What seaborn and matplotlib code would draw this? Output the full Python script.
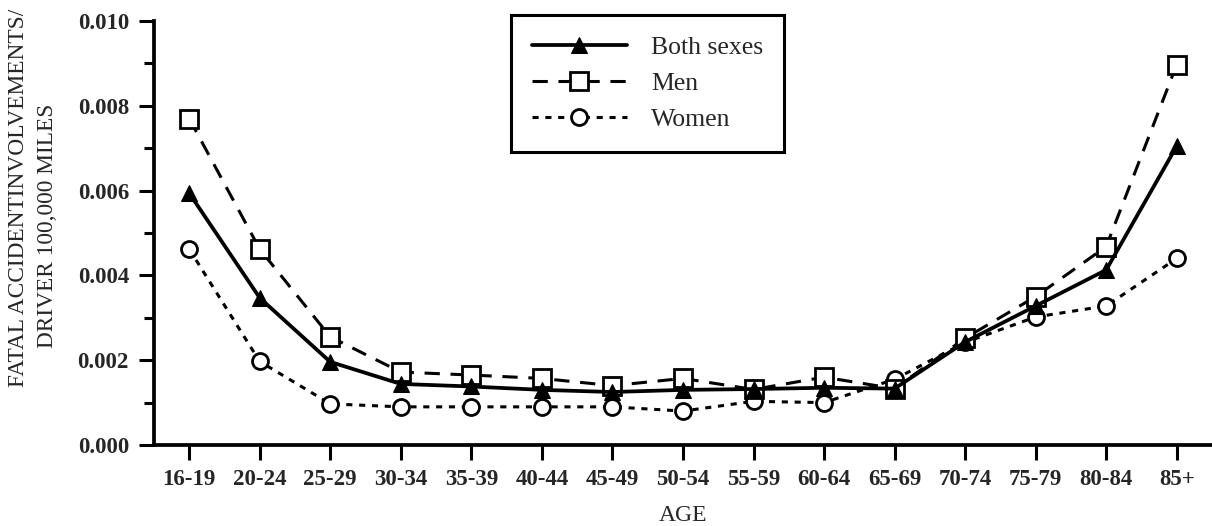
import matplotlib
matplotlib.use("Agg")
import matplotlib.pyplot as plt
import seaborn as sns
import pandas as pd
from matplotlib.ticker import MultipleLocator, FormatStrFormatter

age_groups = ["16-19", "20-24", "25-29", "30-34", "35-39", "40-44", "45-49",
              "50-54", "55-59", "60-64", "65-69", "70-74", "75-79", "80-84", "85+"]
both_sexes = [0.00594, 0.00347, 0.00196, 0.00144, 0.00138, 0.00130, 0.00125,
              0.00130, 0.00132, 0.00135, 0.00133, 0.00243, 0.00328, 0.00413, 0.00705]
men = [0.00770, 0.00462, 0.00255, 0.00172, 0.00165, 0.00157, 0.00140,
       0.00157, 0.00131, 0.00160, 0.00133, 0.00252, 0.00350, 0.00468, 0.00897]
women = [0.00462, 0.00197, 0.00097, 0.00090, 0.00090, 0.00090, 0.00090,
         0.00080, 0.00103, 0.00100, 0.00155, 0.00242, 0.00302, 0.00328, 0.00440]

sns.set_theme(style="ticks")
plt.rcParams["font.family"] = ["Liberation Serif", "DejaVu Serif"]

df = pd.DataFrame({"pos": range(len(age_groups)), "both": both_sexes,
                   "men": men, "women": women})

fig = plt.figure(figsize=(12.12, 5.26), dpi=100)
ax = fig.add_axes([0.127, 0.154, 0.873, 0.806])

sns.lineplot(data=df, x="pos", y="women", ax=ax, color="black", linewidth=2.2,
             linestyle=(0, (2, 2.2)), marker="o", markersize=11.5,
             markerfacecolor="white", markeredgecolor="black", markeredgewidth=2,
             label="Women", zorder=3)
sns.lineplot(data=df, x="pos", y="men", ax=ax, color="black", linewidth=2.2,
             linestyle=(0, (5, 3.5)), marker="s", markersize=12.5,
             markerfacecolor="white", markeredgecolor="black", markeredgewidth=2,
             label="Men", zorder=4)
sns.lineplot(data=df, x="pos", y="both", ax=ax, color="black", linewidth=2.7,
             linestyle="-", marker="^", markersize=12,
             markerfacecolor="black", markeredgecolor="black",
             label="Both sexes", zorder=5)

ax.set_xlim(-0.5, 14.5)
ax.set_ylim(0, 0.010)
ax.set_xticks(range(len(age_groups)))
ax.set_xticklabels(age_groups)
ax.yaxis.set_major_locator(MultipleLocator(0.002))
ax.yaxis.set_minor_locator(MultipleLocator(0.001))
ax.yaxis.set_major_formatter(FormatStrFormatter("%.3f"))

for lbl in ax.get_xticklabels() + ax.get_yticklabels():
    lbl.set_fontsize(16.5)
    lbl.set_fontweight("bold")

ax.tick_params(axis="x", which="major", length=11, width=2.2, color="black", pad=6)
ax.tick_params(axis="y", which="major", length=11, width=2.2, color="black", pad=7)
ax.tick_params(axis="y", which="minor", length=7, width=2.2, color="black")
sns.despine(ax=ax)
for side in ["left", "bottom"]:
    ax.spines[side].set_linewidth(2.7)
    ax.spines[side].set_color("black")

ax.set_xlabel("AGE", fontsize=17, labelpad=11)
ax.set_ylabel("")
fig.text(19 / 1212, 1 - 198 / 526, "FATAL ACCIDENTINVOLVEMENTS/", rotation=90,
         ha="center", va="center", fontsize=16.8)
fig.text(48 / 1212, 1 - 226 / 526, "DRIVER 100,000 MILES", rotation=90,
         ha="center", va="center", fontsize=16.8)

handles, labels = ax.get_legend_handles_labels()
order = [2, 1, 0]
leg = ax.legend([handles[i] for i in order], [labels[i] for i in order],
                loc="upper left", bbox_to_anchor=(0.4216, 0.9715),
                bbox_transform=fig.transFigure, frameon=True, fancybox=False,
                edgecolor="black", prop={"size": 18.5},
                handlelength=3.7, borderpad=0.8, labelspacing=0.52,
                handletextpad=0.95, borderaxespad=0)
leg.get_frame().set_linewidth(2.2)
leg.get_frame().set_alpha(1)

fig.savefig("out.png", dpi=100)
